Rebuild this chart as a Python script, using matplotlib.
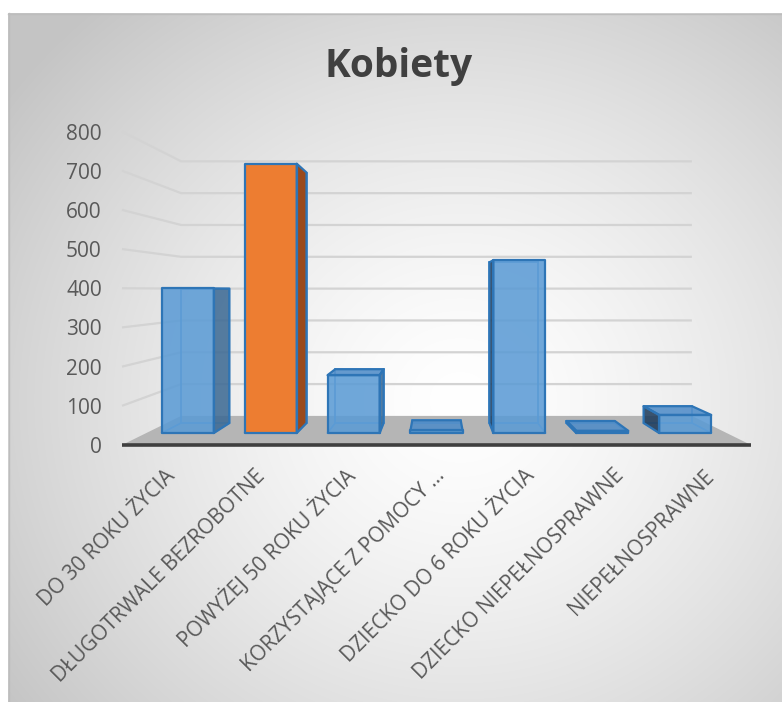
import numpy as np
import matplotlib
matplotlib.use("Agg")
import matplotlib.pyplot as plt
from matplotlib.patches import Polygon
from matplotlib.transforms import ScaledTranslation

# ---------------- data ----------------
title = "Kobiety"
categories = [
    "DO 30 ROKU ŻYCIA",
    "DŁUGOTRWALE BEZROBOTNE",
    "POWYŻEJ 50 ROKU ŻYCIA",
    "KORZYSTAJĄCE Z POMOCY ...",
    "DZIECKO DO 6 ROKU ŻYCIA",
    "DZIECKO NIEPEŁNOSPRAWNE",
    "NIEPEŁNOSPRAWNE",
]
values = [400, 745, 160, 8, 478, 6, 50]
highlighted = [False, True, False, False, False, False, False]
y_ticks = [0, 100, 200, 300, 400, 500, 600, 700, 800]

# ---------------- layout / style ----------------
W, H = 782, 702
FONT = "Open Sans"
TXT = "#595959"

# perspective parameters (scale factors of depth planes)
S_FRONT, S_BAR_F, S_BAR_B, S_WALL = 1.0, 0.9226, 0.858, 0.812
VX, VY = 3.5, 395.0          # vanishing point in data coordinates
HALF_W = 0.314

def proj(x, v, s):
    return (VX + (x - VX) * s, VY + (v - VY) * s)

fig = plt.figure(figsize=(W / 100, H / 100), dpi=100)
fig.patch.set_facecolor("white")

# background panel with radial gradient
bg = fig.add_axes([0, 0, 1, 1])
bg.set_xlim(0, W)
bg.set_ylim(H, 0)
bg.axis("off")
yy, xx = np.mgrid[13:H, 8:W]
cx, cy = 460.0, 400.0
r = np.sqrt(((xx - cx) / 560.0) ** 2 + ((yy - cy) / 520.0) ** 2)
r = np.clip(r, 0, 1)
c_in, c_out = 1.0, 0.77
g = c_in + (c_out - c_in) * r ** 1.4
img = np.dstack([g, g, g])
bg.imshow(img, extent=(8, W, H, 13), origin="upper", aspect="auto", interpolation="bilinear")
bg.plot([8, W], [13.5, 13.5], color="#bdbdbd", lw=1)
bg.plot([8.5, 8.5], [13, H], color="#bdbdbd", lw=1)

# main axes = front plane of the 3D box
ax = fig.add_axes([122 / W, (H - 445) / H, 629 / W, (445 - 131.5) / H])
ax.set_xlim(0, 7)
ax.set_ylim(0, 800)
ax.patch.set_alpha(0)
for sp in ax.spines.values():
    sp.set_visible(False)

n = len(categories)

# gridlines: left wall + back wall
for v in y_ticks[1:]:
    x0, y0 = proj(0, v, S_FRONT)
    x1, y1 = proj(0, v, S_WALL)
    x2, y2 = proj(n, v, S_WALL)
    ax.plot([x0, x1, x2], [y0, y1, y2], color="#d3d3d3", lw=1.6, clip_on=False, zorder=1,
            solid_capstyle="butt")

# floor
floor = [proj(0, 0, S_FRONT), proj(n, 0, S_FRONT), proj(n, 0, S_WALL), proj(0, 0, S_WALL)]
ax.add_patch(Polygon(floor, closed=True, facecolor="#b5b5b5", edgecolor="none",
                     clip_on=False, zorder=2))
ax.plot([0, n], [0, 0], color="#3f3f3f", lw=2.6, clip_on=False, zorder=3,
        solid_capstyle="butt")

# bars
EDGE = "#2e75b6"
for i, (v, hl) in enumerate(zip(values, highlighted)):
    xl, xr = i + 0.5 - HALF_W, i + 0.5 + HALF_W
    if hl:
        c_front, c_top, c_rside, c_lside = "#ed7d31", "#f0903f", "#9a4a1c", "#7a3a15"
        alpha = 1.0
    else:
        c_front, c_top, c_rside, c_lside = "#5b9bd5", "#4f8cc8", "#3d6a94", "#1f3b5a"
        alpha = 0.87
    # corners
    fbl, fbr = proj(xl, 0, S_BAR_F), proj(xr, 0, S_BAR_F)
    ftl, ftr = proj(xl, v, S_BAR_F), proj(xr, v, S_BAR_F)
    bbl, bbr = proj(xl, 0, S_BAR_B), proj(xr, 0, S_BAR_B)
    btl, btr = proj(xl, v, S_BAR_B), proj(xr, v, S_BAR_B)
    # hidden edges (seen through the translucent faces)
    for a, b in [(bbl, bbr), (bbl, btl), (bbr, btr), (btl, btr), (fbl, bbl), (fbr, bbr)]:
        ax.plot([a[0], b[0]], [a[1], b[1]], color="#5b9bd5", lw=1.2, clip_on=False, zorder=4)
    faces = []
    if xr < VX:
        faces.append(([fbr, bbr, btr, ftr], c_rside))
    if xl > VX:
        faces.append(([fbl, bbl, btl, ftl], c_lside))
    if v < VY:
        faces.append(([ftl, ftr, btr, btl], c_top))
    faces.append(([fbl, fbr, ftr, ftl], c_front))
    for pts, col in faces:
        ax.add_patch(Polygon(pts, closed=True, facecolor=col, alpha=alpha, edgecolor="none",
                             clip_on=False, zorder=5))
        ax.add_patch(Polygon(pts, closed=True, facecolor="none", edgecolor=EDGE, lw=1.6,
                             joinstyle="round", clip_on=False, zorder=6))

# ticks
ax.set_yticks(y_ticks)
ax.set_yticklabels([str(t) for t in y_ticks], fontsize=15, color=TXT, family=FONT)
ax.tick_params(axis="y", length=0, pad=14.5)
ax.set_xticks([i + 0.5 for i in range(n)])
ax.set_xticklabels(categories, fontsize=15, color=TXT, family=FONT, rotation=45,
                   ha="right", va="center", rotation_mode="anchor")
ax.tick_params(axis="x", length=0, pad=20)
off = ScaledTranslation(0.05, 0.0, fig.dpi_scale_trans)
for lab in ax.get_xticklabels():
    lab.set_transform(lab.get_transform() + off)

# title
fig.text(399 / W, 1 - 77 / H, title, ha="center", va="baseline", fontsize=28,
         fontweight="bold", color="#404040", family=FONT)

fig.savefig("out.png", dpi=100)
